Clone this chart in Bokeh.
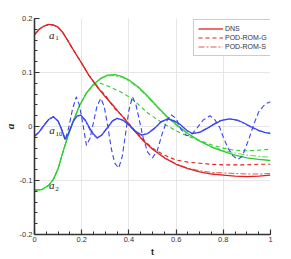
from bokeh.plotting import figure
from bokeh.models import FixedTicker, Legend, LegendItem, Label, CustomJSTickFormatter
from bokeh.embed import file_html
from bokeh.resources import INLINE

# ---- tick labels ----
x_ticks = [0, 0.2, 0.4, 0.6, 0.8, 1]
y_ticks = [-0.2, -0.1, 0, 0.1, 0.2]
x_minor = [round(i * 0.05, 2) for i in range(21)]
y_minor = [round(-0.2 + i * 0.02, 2) for i in range(21)]

# ---- a1 (red) ----
t_red = [0, 0.02, 0.04, 0.06, 0.08, 0.10, 0.12, 0.14, 0.16, 0.18, 0.20, 0.23, 0.25, 0.27, 0.30,
         0.34, 0.38, 0.42, 0.46, 0.50, 0.55, 0.60, 0.65, 0.70, 0.75, 0.80, 0.85, 0.90, 0.95, 1.0]
red_dns = [0.170, 0.180, 0.186, 0.189, 0.188, 0.184, 0.174, 0.160, 0.145, 0.131, 0.117, 0.095, 0.083,
           0.071, 0.055, 0.035, 0.015, -0.006, -0.026, -0.042, -0.058, -0.070, -0.078, -0.084, -0.088,
           -0.090, -0.092, -0.093, -0.092, -0.090]
red_g = [0.170, 0.180, 0.186, 0.189, 0.188, 0.184, 0.174, 0.160, 0.145, 0.131, 0.117, 0.095, 0.083,
         0.072, 0.058, 0.033, 0.016, -0.005, -0.024, -0.040, -0.053, -0.062, -0.066, -0.068, -0.070,
         -0.071, -0.071, -0.071, -0.070, -0.070]
red_s = [0.170, 0.180, 0.186, 0.189, 0.188, 0.184, 0.174, 0.160, 0.145, 0.131, 0.117, 0.095, 0.083,
         0.070, 0.056, 0.037, 0.014, -0.007, -0.026, -0.041, -0.057, -0.069, -0.077, -0.082, -0.085,
         -0.086, -0.087, -0.088, -0.088, -0.087]

# ---- a2 (green) ----
t_green = [0, 0.03, 0.06, 0.08, 0.10, 0.12, 0.14, 0.16, 0.19, 0.22, 0.25, 0.28, 0.31, 0.34, 0.37,
           0.40, 0.44, 0.48, 0.52, 0.56, 0.60, 0.65, 0.70, 0.75, 0.80, 0.85, 0.90, 0.95, 1.0]
green_dns = [-0.118, -0.117, -0.109, -0.098, -0.078, -0.048, -0.020, 0.005, 0.038, 0.062, 0.078,
             0.089, 0.095, 0.096, 0.093, 0.086, 0.073, 0.056, 0.037, 0.019, 0.004, -0.013, -0.027,
             -0.038, -0.046, -0.053, -0.058, -0.061, -0.063]
green_g = [-0.118, -0.117, -0.109, -0.098, -0.078, -0.048, -0.020, 0.005, 0.038, 0.062, 0.077,
           0.080, 0.075, 0.069, 0.063, 0.055, 0.041, 0.025, 0.013, 0.002, -0.008, -0.018, -0.026,
           -0.034, -0.040, -0.044, -0.045, -0.044, -0.042]
green_s = [-0.118, -0.117, -0.109, -0.098, -0.078, -0.048, -0.020, 0.005, 0.038, 0.062, 0.078,
           0.088, 0.094, 0.094, 0.091, 0.084, 0.071, 0.054, 0.035, 0.017, 0.002, -0.014, -0.027,
           -0.037, -0.044, -0.049, -0.053, -0.055, -0.057]

# ---- a10 (blue) ----
t_blue = [0, 0.02, 0.04, 0.06, 0.08, 0.10, 0.115, 0.13, 0.145, 0.165, 0.18, 0.196, 0.215, 0.235,
          0.25, 0.266, 0.285, 0.31, 0.33, 0.35, 0.375, 0.40, 0.425, 0.454, 0.48, 0.51, 0.535, 0.564,
          0.59, 0.62, 0.645, 0.668, 0.70, 0.73, 0.76, 0.79, 0.827, 0.86, 0.89, 0.92, 0.95, 0.975, 1.0]
blue_dns = [-0.018, -0.010, 0.002, 0.013, 0.018, 0.010, -0.005, -0.024, -0.012, 0.010, 0.019, 0.021,
            0.012, -0.004, -0.014, -0.021, -0.016, -0.002, 0.010, 0.015, 0.012, 0.003, -0.008,
            -0.016, -0.013, -0.003, 0.008, 0.014, 0.011, 0.003, -0.007, -0.013, -0.011, -0.004,
            0.004, 0.011, 0.014, 0.012, 0.006, -0.001, -0.007, -0.011, -0.013]
blue_s = [-0.018, -0.010, 0.002, 0.013, 0.018, 0.010, -0.005, -0.023, -0.010, 0.011, 0.020, 0.020,
          0.010, -0.007, -0.017, -0.022, -0.015, 0.000, 0.011, 0.015, 0.011, 0.002, -0.009,
          -0.016, -0.012, -0.002, 0.009, 0.014, 0.010, 0.002, -0.008, -0.013, -0.010, -0.003,
          0.005, 0.012, 0.014, 0.011, 0.005, -0.002, -0.008, -0.011, -0.012]

t_blue_g = [0, 0.02, 0.04, 0.06, 0.08, 0.10, 0.115, 0.13, 0.145, 0.16, 0.177, 0.19, 0.205, 0.22,
            0.235, 0.25, 0.265, 0.281, 0.295, 0.31, 0.325, 0.34, 0.357, 0.372, 0.387, 0.40, 0.415,
            0.43, 0.445, 0.46, 0.48, 0.50, 0.52, 0.54, 0.56, 0.578, 0.60, 0.62, 0.645, 0.665, 0.69,
            0.715, 0.744, 0.765, 0.785, 0.80, 0.82, 0.84, 0.862, 0.88, 0.90, 0.91, 0.93, 0.95,
            0.97, 0.985, 1.0]
blue_g = [-0.018, -0.010, 0.002, 0.013, 0.018, 0.010, -0.006, -0.025, -0.002, 0.030, 0.055, 0.040,
          0.005, -0.035, -0.022, 0.008, 0.038, 0.052, 0.038, 0.002, -0.040, -0.068, -0.077, -0.055,
          -0.010, 0.030, 0.055, 0.040, 0.010, -0.020, -0.048, -0.058, -0.045, -0.015, 0.010, 0.022,
          0.015, -0.005, -0.017, -0.015, -0.002, 0.012, 0.020, 0.012, -0.002, -0.020, -0.040,
          -0.054, -0.061, -0.055, -0.033, -0.021, 0.005, 0.027, 0.038, 0.043, 0.046]

RED, GREEN, BLUE = "#dd2323", "#2ccc2c", "#3a44ee"
DASH = "4 3"
DASHDOT = "6 2 2 2"

p = figure(width=291, height=259, x_range=(0, 1), y_range=(-0.2, 0.2),
           output_backend="svg", toolbar_location=None,
           min_border_left=29, min_border_right=21, min_border_top=18, min_border_bottom=25)
p.outline_line_color = None
p.background_fill_color = "white"

xt = FixedTicker(ticks=x_ticks, minor_ticks=x_minor)
yt = FixedTicker(ticks=y_ticks, minor_ticks=y_minor)
p.xaxis.ticker = xt
p.yaxis.ticker = yt
p.xgrid.ticker = xt
p.ygrid.ticker = yt
p.grid.grid_line_color = "#e6e6e6"
p.grid.grid_line_width = 1

fmt = CustomJSTickFormatter(code="return tick.toString();")
for ax in (p.xaxis[0], p.yaxis[0]):
    ax.formatter = fmt
    ax.major_tick_in = 5
    ax.major_tick_out = 0
    ax.minor_tick_in = 3
    ax.minor_tick_out = 0
    ax.axis_line_width = 1.6
    ax.axis_line_color = "#333333"
    ax.major_tick_line_color = "#333333"
    ax.minor_tick_line_color = "#333333"
    ax.major_tick_line_width = 1.2
    ax.minor_tick_line_width = 1
    ax.major_label_text_font = "Liberation Sans"
    ax.major_label_text_font_size = "7.5px"
    ax.major_label_text_color = "#333333"
    ax.major_label_standoff = 2
    ax.axis_label_standoff = 1
    ax.axis_label_text_color = "#222222"

p.yaxis.axis_label = "a"
p.yaxis.axis_label_text_font = "Liberation Serif"
p.yaxis.axis_label_text_font_style = "bold italic"
p.yaxis.axis_label_text_font_size = "11px"
p.xaxis.axis_label = "t"
p.xaxis.axis_label_text_font = "Liberation Sans"
p.xaxis.axis_label_text_font_style = "bold"
p.xaxis.axis_label_text_font_size = "9px"
p.xaxis.axis_label_standoff = 2

# green
p.line(t_green, green_g, color=GREEN, line_width=1.1, line_dash=DASH)
p.line(t_green, green_s, color=GREEN, line_width=0.9, line_dash=DASHDOT, alpha=0.85)
p.line(t_green, green_dns, color=GREEN, line_width=1.3)
# red
r_g = p.line(t_red, red_g, color=RED, line_width=1.1, line_dash=DASH)
r_s = p.line(t_red, red_s, color=RED, line_width=0.9, line_dash=DASHDOT, alpha=0.85)
r_dns = p.line(t_red, red_dns, color=RED, line_width=1.3)
# blue
p.line(t_blue_g, blue_g, color=BLUE, line_width=1.1, line_dash="5 3")
p.line(t_blue, blue_s, color=BLUE, line_width=0.9, line_dash=DASHDOT, alpha=0.85)
p.line(t_blue, blue_dns, color=BLUE, line_width=1.3)

legend = Legend(items=[LegendItem(label="DNS", renderers=[r_dns]),
                       LegendItem(label="POD-ROM-G", renderers=[r_g]),
                       LegendItem(label="POD-ROM-S", renderers=[r_s])],
                location=(159, 178))
legend.padding = 4
legend.spacing = 0
legend.margin = 0
legend.label_height = 9
legend.glyph_height = 9
legend.glyph_width = 25
legend.label_standoff = 2
legend.label_text_font = "Liberation Sans"
legend.label_text_font_size = "7px"
legend.label_text_color = "#333333"
legend.border_line_color = "#999999"
legend.border_line_width = 1
legend.background_fill_color = "white"
legend.background_fill_alpha = 1
p.add_layout(legend)

SERIF = "Liberation Serif"
def add_label(x, y, text, size, style="italic", align="center"):
    p.add_layout(Label(x=x, y=y, text=text, text_font=SERIF, text_font_size=size,
                       text_font_style=style, text_align=align, text_baseline="middle",
                       text_color="#222222"))

add_label(0.073, 0.170, "a", "11px")
add_label(0.088, 0.163, "1", "7px", style="normal", align="left")
add_label(0.074, -0.007, "a", "11px")
add_label(0.089, -0.014, "10", "7px", style="normal", align="left")
add_label(0.073, -0.108, "a", "11px")
add_label(0.088, -0.115, "2", "7px", style="normal", align="left")

open("out.html", "w").write(file_html(p, INLINE))
